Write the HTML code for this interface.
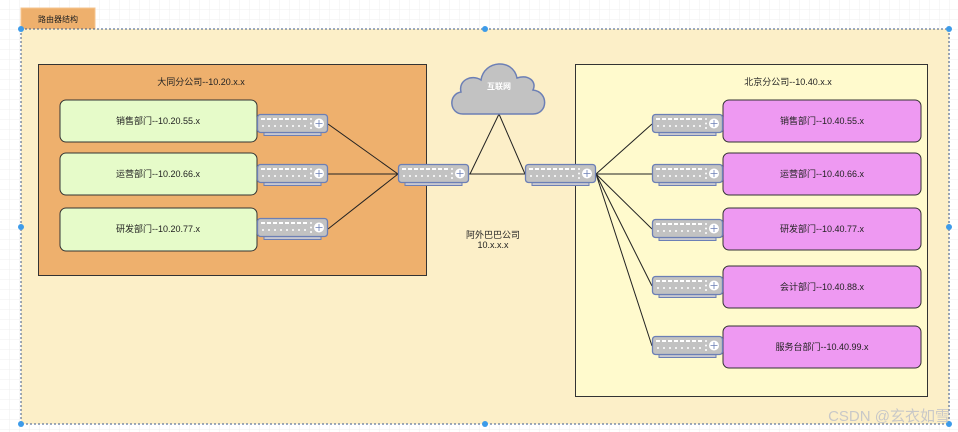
<!DOCTYPE html>
<html><head><meta charset="utf-8"><style>
html,body{margin:0;padding:0;width:958px;height:432px;overflow:hidden;background:#fff}
svg{display:block}
text{font-family:"Liberation Sans","Noto Sans CJK SC",sans-serif;font-size:9px;fill:#222}
</style></head><body>
<svg width="958" height="432" viewBox="0 0 958 432" xmlns="http://www.w3.org/2000/svg">
<defs>
<pattern id="g" width="10" height="10" patternUnits="userSpaceOnUse"><path d="M10 0V10H0" fill="none" stroke="#efefef" stroke-width="1"/></pattern>
<g id="r">
<rect x="7" y="18" width="57" height="3.5" fill="#c8c8d0" stroke="#6c7fb5" stroke-width="1"/>
<rect x="0.5" y="0.5" width="70" height="18" rx="3" fill="#c2c2c2" stroke="#6c7fb5" stroke-width="1.3"/>
<g fill="#fff">
<path d="M4 4h4v2h-4zM10 4h4v2h-4zM16 4h4v2h-4zM22 4h4v2h-4zM28 4h4v2h-4zM34 4h4v2h-4zM40 4h4v2h-4zM46 4h4v2h-4z"/>
<circle cx="6" cy="12" r="1"/><circle cx="12" cy="12" r="1"/><circle cx="18" cy="12" r="1"/><circle cx="24" cy="12" r="1"/><circle cx="30" cy="12" r="1"/><circle cx="36" cy="12" r="1"/><circle cx="42" cy="12" r="1"/><circle cx="48" cy="12" r="1"/>
<circle cx="54" cy="5" r="1"/><circle cx="54" cy="9.5" r="1"/><circle cx="54" cy="14" r="1"/>
<circle cx="62" cy="9.5" r="5"/></g>
<path d="M62 6v7M58.5 9.5h7" stroke="#6c7fb5" stroke-width="0.8"/>
</g>
</defs>
<rect width="958" height="432" fill="url(#g)"/>
<rect x="21" y="8" width="74" height="21" fill="#eeb06d" stroke="#f5c690"/>
<text x="58" y="22" text-anchor="middle" style="font-size:8px">路由器结构</text>
<rect x="21" y="29" width="928" height="395" fill="#fcefc8" stroke="#3c5a8a" stroke-dasharray="2 2"/>
<rect x="38.5" y="64.5" width="388" height="211" fill="#eeb06d" stroke="#333"/>
<text x="201" y="85" text-anchor="middle">大同分公司--10.20.x.x</text>
<rect x="575.5" y="64.5" width="352" height="332" fill="#fffacd" stroke="#333"/>
<text x="788" y="85" text-anchor="middle">北京分公司--10.40.x.x</text>
<g fill="#e6fbc9" stroke="#333">
<rect x="60" y="100" width="197" height="42" rx="6"/>
<rect x="60" y="153" width="197" height="42" rx="6"/>
<rect x="60" y="208" width="197" height="43" rx="6"/>
</g>
<text x="158" y="124" text-anchor="middle">销售部门--10.20.55.x</text>
<text x="158" y="177" text-anchor="middle">运营部门--10.20.66.x</text>
<text x="158" y="232" text-anchor="middle">研发部门--10.20.77.x</text>
<g fill="#ee99f2" stroke="#333">
<rect x="723" y="100" width="198" height="42" rx="6"/>
<rect x="723" y="153" width="198" height="42" rx="6"/>
<rect x="723" y="208" width="198" height="42" rx="6"/>
<rect x="723" y="266" width="198" height="42" rx="6"/>
<rect x="723" y="326" width="198" height="42" rx="6"/>
</g>
<text x="822" y="124" text-anchor="middle">销售部门--10.40.55.x</text>
<text x="822" y="177" text-anchor="middle">运营部门--10.40.66.x</text>
<text x="822" y="232" text-anchor="middle">研发部门--10.40.77.x</text>
<text x="822" y="290" text-anchor="middle">会计部门--10.40.88.x</text>
<text x="822" y="350" text-anchor="middle">服务台部门--10.40.99.x</text>
<g stroke="#222" stroke-width="1" fill="none">
<path d="M328 124L398 174M328 174H398M328 229L398 174"/>
<path d="M469 174H525M470 174L499 114L525 174"/>
<path d="M596 174L652 124M596 174H652M596 174L652 229M596 174L652 286M596 174L652 346"/>
</g>
<use href="#r" x="257" y="114"/><use href="#r" x="257" y="164"/><use href="#r" x="257" y="218"/>
<use href="#r" x="398" y="164"/><use href="#r" x="525" y="164"/>
<use href="#r" x="652" y="114"/><use href="#r" x="652" y="164"/><use href="#r" x="652" y="219"/><use href="#r" x="652" y="276"/><use href="#r" x="652" y="336"/>
<path d="M463 114C449 114 448 94 461 92C458 80 472 74 481 80C484 60 513 58 517 78C529 74 537 82 533 90C549 92 548 114 533 114Z" fill="#c2c2c2" stroke="#6c7fb5" stroke-width="1.5"/>
<text x="499" y="89" text-anchor="middle" style="fill:#fff;font-size:8px;font-weight:bold">互联网</text>
<text x="493" y="238" text-anchor="middle">阿外巴巴公司</text>
<text x="493" y="248" text-anchor="middle">10.x.x.x</text>
<g fill="#3d9be9">
<circle cx="21" cy="29" r="3"/><circle cx="485" cy="29" r="3"/><circle cx="949" cy="29" r="3"/>
<circle cx="21" cy="227" r="3"/><circle cx="949" cy="227" r="3"/>
<circle cx="21" cy="424" r="3"/><circle cx="485" cy="424" r="3"/><circle cx="949" cy="424" r="3"/>
</g>
<text x="950" y="421" text-anchor="end" style="font-size:15px;fill:#c8c8c8">CSDN @玄衣如雪</text>
</svg>
</body></html>
